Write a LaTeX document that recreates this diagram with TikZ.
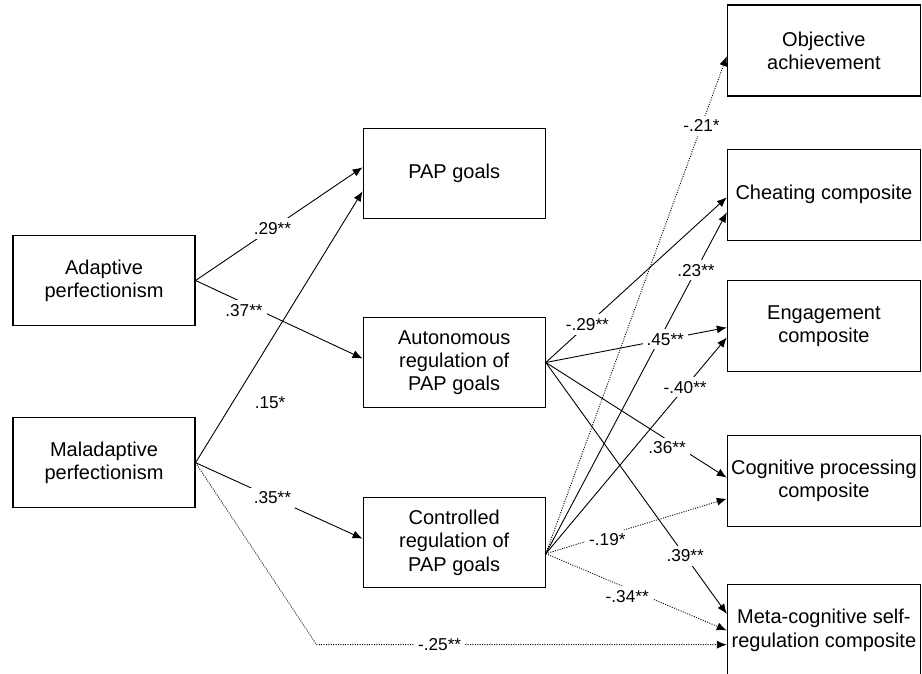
\documentclass[tikz,border=0pt]{standalone}
\usepackage{fontspec}
\setmainfont{Liberation Sans}
\usetikzlibrary{positioning,arrows.meta}

\begin{document}
\begin{tikzpicture}[
        >={Latex[length=5pt,width=4pt]},
        boxnode/.style={rectangle, draw, line width=0.6pt, minimum width=91pt, minimum height=45pt, inner sep=1pt, align=center, font=\fontsize{10}{11.6}\selectfont},
        widenode/.style={boxnode, minimum width=96.5pt, minimum height=45.5pt},
        coefnode/.style={fill=white, inner sep=2pt, font=\fontsize{8.6}{10}\selectfont},
        solidline/.style={->, line width=0.45pt},
        dotline/.style={->, line width=0.45pt, dash pattern=on 0.5pt off 0.7pt},
        ]
        \useasboundingbox (-52pt,-196.75pt) rectangle (409pt,140.25pt);
        %Nodes
        \node[boxnode]      (adaptive)                                          {Adaptive\\perfectionism};
        \node[boxnode]      (maladaptive)   [below=45.5pt of adaptive]          {Maladaptive\\perfectionism};
        \node[boxnode]      (pap)           [above right=8pt and 83.5pt of adaptive] {PAP goals};
        \node[boxnode]      (autonomous)    [below=49pt of pap]                 {Autonomous\\regulation of\\PAP goals};
        \node[boxnode]      (controlled)    [below=44.5pt of autonomous]        {Controlled\\regulation of\\PAP goals};
        \node[widenode]     (objective)     [above right=15.5pt and 90.5pt of pap] {Objective\\achievement};
        \node[widenode]     (cheating)      [below=26pt of objective]           {Cheating composite};
        \node[widenode]     (engagement)    [below=19.5pt of cheating]          {Engagement\\composite};
        \node[widenode]     (cognitive)     [below=31.5pt of engagement]        {Cognitive processing\\composite};
        \node[widenode]     (meta)          [below=28.5pt of cognitive]         {Meta-cognitive self-\\regulation composite};
        \coordinate (bend) at ([xshift=60.5pt, yshift=-91pt]maladaptive.east);
        \coordinate (ctrlout) at ([yshift=-5.5pt]controlled.east);

        %Lines
        \draw[solidline] (adaptive.east) -- node[coefnode, pos=0.46] {.29**} ([yshift=3pt]pap.west);
        \draw[solidline] (adaptive.east) -- node[coefnode, pos=0.29, yshift=-3.5pt] {.37**} ([yshift=2pt]autonomous.west);
        \draw[solidline] (maladaptive.east) -- node[coefnode, pos=0.22, right=9pt] {.15*} ([yshift=-9pt]pap.west);
        \draw[solidline] (maladaptive.east) -- node[coefnode, pos=0.46] {.35**} ([yshift=2pt]controlled.west);
        \draw[dotline] (maladaptive.east) -- (bend) -- node[coefnode, pos=0.3] {-.25**} (bend -| meta.west);

        \draw[dotline] (ctrlout) -- node[coefnode, pos=0.86] {-.21*} ([yshift=-2.75pt]objective.west);
        \draw[solidline] (ctrlout) -- node[coefnode, pos=0.83] {.23**} ([yshift=-8.75pt]cheating.west);
        \draw[solidline] (ctrlout) -- node[coefnode, pos=0.77] {-.40**} ([yshift=-5.75pt]engagement.west);
        \draw[dotline] (ctrlout) -- node[coefnode, pos=0.34, yshift=-2.5pt] {-.19*} ([yshift=-8.75pt]cognitive.west);
        \draw[dotline] (ctrlout) -- node[coefnode, pos=0.45, yshift=-4pt] {-.34**} (meta.west);

        \draw[solidline] (autonomous.east) -- node[coefnode, pos=0.23] {-.29**} ([yshift=-1.25pt]cheating.west);
        \draw[solidline] (autonomous.east) -- node[coefnode, pos=0.66] {.45**} ([yshift=-0.75pt]engagement.west);
        \draw[solidline] (autonomous.east) -- node[coefnode, pos=0.67, yshift=-4pt] {.36**} ([yshift=1.75pt]cognitive.west);
        \draw[solidline] (autonomous.east) -- node[coefnode, pos=0.77] {.39**} ([yshift=8.25pt]meta.west);
\end{tikzpicture}
\end{document}
